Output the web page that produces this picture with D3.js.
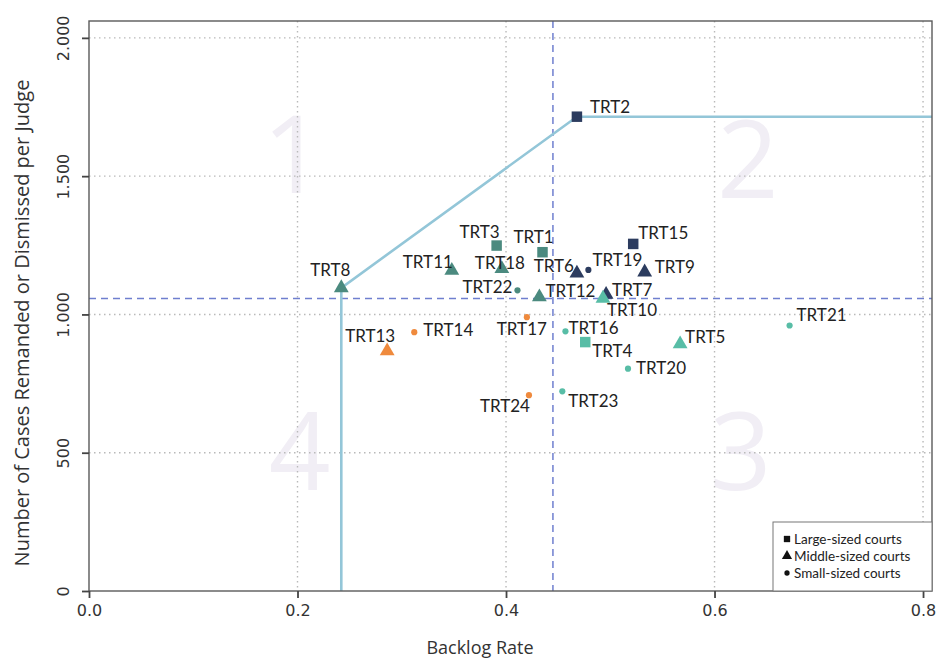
<!DOCTYPE html>
<html><head><meta charset="utf-8">
<script src="https://cdn.jsdelivr.net/npm/d3@7"></script>
<style>body{margin:0;background:#fff;}svg{display:block;font-family:Lato,"Open Sans",sans-serif;}</style>
</head><body><svg id="c" width="942" height="659"></svg>
<script>
// ---- data ----
const names   = ["TRT1","TRT2","TRT3","TRT4","TRT5","TRT6","TRT7","TRT8","TRT9","TRT10","TRT11","TRT12","TRT13","TRT14","TRT15","TRT16","TRT17","TRT18","TRT19","TRT20","TRT21","TRT22","TRT23","TRT24"];
const backlog = [0.435,0.468,0.391,0.476,0.567,0.468,0.496,0.242,0.533,0.493,0.348,0.432,0.286,0.312,0.522,0.457,0.420,0.396,0.479,0.517,0.672,0.411,0.454,0.422];
const cases   = [1225,1715,1249,900,893,1149,1072,1096,1153,1058,1159,1063,868,936,1255,939,990,1165,1161,804,960,1087,722,708];
const sizes   = ["L","L","L","L","M","M","M","M","M","M","M","M","M","S","L","S","S","M","S","S","S","S","S","S"];
const groups  = ["teal","navy","teal","light","light","navy","navy","teal","navy","light","teal","teal","orange","orange","navy","light","orange","teal","navy","light","light","teal","light","orange"];
const xTicks = [0.0,0.2,0.4,0.6,0.8];
const yTicks = [0,500,1000,1500,2000];
const meanBacklog = 0.445, meanCases = 1058;
const quadrants = ["1","2","3","4"];
const legendLabels = ["Large-sized courts","Middle-sized courts","Small-sized courts"];
const legendSizes = ["L","M","S"];

// ---- styles / layout ----
const colors = {navy:"#2c3c5f", teal:"#4b8a7f", light:"#58bda6", orange:"#ef8a3d"};
// label placement: [dx, dy(baseline), anchor]
const labelPos = {
 TRT1:[-29,-9,"start"],TRT2:[13,-4,"start"],TRT3:[3,-8,"end"],TRT4:[7,15,"start"],TRT5:[5,-1,"start"],
 TRT6:[-3,-1,"end"],TRT7:[6,1,"start"],TRT8:[-31,-12,"start"],TRT9:[10,1,"start"],TRT10:[4,18,"start"],
 TRT11:[-49,-2,"start"],TRT12:[6,0,"start"],TRT13:[-42,-9,"start"],TRT14:[9,4,"start"],TRT15:[5,-5,"start"],
 TRT16:[3,3,"start"],TRT17:[20,18,"end"],TRT18:[-27,0,"start"],TRT19:[4,-4,"start"],TRT20:[8,5,"start"],
 TRT21:[7,-4,"start"],TRT22:[-5,3,"end"],TRT23:[6,16,"start"],TRT24:[1,17,"end"]
};
const W=942,H=659, m={l:89,t:21,r:10,b:68};
const svg=d3.select("#c");
const x=d3.scaleLinear().domain([0,0.8086]).range([m.l,W-m.r]);
const y=d3.scaleLinear().domain([0,2061]).range([H-m.b,m.t]);
const loc=d3.formatLocale({decimal:",",thousands:".",grouping:[3],currency:["",""]});
const yFmt=loc.format(","), xFmt=d3.format(".1f");

// quadrant numbers
const qPos=[[0.196,1440],[0.632,1420],[0.625,365],[0.202,365]];
svg.append("g").selectAll("text").data(quadrants).join("text")
 .attr("x",(d,i)=>x(qPos[i][0])).attr("y",(d,i)=>y(qPos[i][1]))
 .attr("text-anchor","middle").attr("font-size",108).attr("fill","#f1eef5")
 .attr("font-family","'Open Sans',sans-serif").text(d=>d);

// grid
const grid=svg.append("g").attr("stroke","#b9b9b9").attr("stroke-width",1.4).attr("stroke-dasharray","1.5,3.5");
grid.selectAll(".gx").data(xTicks.filter(d=>d>0)).join("line")
 .attr("x1",d=>x(d)).attr("x2",d=>x(d)).attr("y1",m.t).attr("y2",H-m.b);
grid.selectAll(".gy").data(yTicks.filter(d=>d>0)).join("line")
 .attr("y1",d=>y(d)).attr("y2",d=>y(d)).attr("x1",m.l).attr("x2",W-m.r);

// mean lines
svg.append("line").attr("x1",x(meanBacklog)).attr("x2",x(meanBacklog)).attr("y1",m.t).attr("y2",H-m.b)
 .attr("stroke","#6f7fcf").attr("stroke-width",1.5).attr("stroke-dasharray","7,5");
svg.append("line").attr("x1",m.l).attr("x2",W-m.r).attr("y1",y(meanCases)).attr("y2",y(meanCases))
 .attr("stroke","#6f7fcf").attr("stroke-width",1.5).attr("stroke-dasharray","7,5");

// frontier
const i8=names.indexOf("TRT8"), i2=names.indexOf("TRT2");
const frontier=[[backlog[i8],0],[backlog[i8],cases[i8]],[backlog[i2],cases[i2]],[0.8086,cases[i2]]];
svg.append("path").attr("d",d3.line().x(d=>x(d[0])).y(d=>y(d[1]))(frontier))
 .attr("fill","none").attr("stroke","#93c6d8").attr("stroke-width",2.6);

// frame
svg.append("rect").attr("x",m.l).attr("y",m.t).attr("width",W-m.r-m.l).attr("height",H-m.b-m.t)
 .attr("fill","none").attr("stroke","#5a5a5a").attr("stroke-width",1.4);

// axes
const xa=svg.append("g").attr("transform",`translate(0,${H-m.b})`)
 .call(d3.axisBottom(x).tickValues(xTicks).tickFormat(xFmt).tickSize(7).tickSizeOuter(0));
xa.select(".domain").remove();
xa.selectAll("line").attr("stroke","#444").attr("stroke-width",1.8);
xa.selectAll("text").attr("fill","#333").attr("dy","0.95em").attr("font-family","'DejaVu Sans',sans-serif").attr("font-size",16);
const ya=svg.append("g").attr("transform",`translate(${m.l},0)`)
 .call(d3.axisLeft(y).tickValues(yTicks).tickFormat(yFmt).tickSize(7).tickSizeOuter(0));
ya.select(".domain").remove();
ya.selectAll("line").attr("stroke","#444").attr("stroke-width",1.8);
ya.selectAll("text").attr("x",0).attr("dy",0).attr("text-anchor","middle")
 .attr("transform","translate(-26,0) rotate(-90)").attr("dominant-baseline","central")
 .attr("font-family","'DejaVu Sans',sans-serif").attr("font-size",16).attr("fill","#333");

// axis titles
svg.append("text").attr("x",480).attr("y",654).attr("text-anchor","middle")
 .attr("font-family","'Open Sans',sans-serif").attr("font-size",18).attr("fill","#333").text("Backlog Rate");
svg.append("text").attr("transform",`translate(21,323) rotate(-90)`).attr("text-anchor","middle")
 .attr("dominant-baseline","central").attr("font-family","'Open Sans',sans-serif").attr("font-size",20).attr("fill","#333")
 .text("Number of Cases Remanded or Dismissed per Judge");

// markers
function sym(s){
 if(s==="L") return d3.symbol(d3.symbolSquare,110)();
 if(s==="M") return d3.symbol(d3.symbolTriangle,95)();
 return d3.symbol(d3.symbolCircle,30)();
}
const idx=d3.range(names.length);
svg.append("g").selectAll("path").data(idx).join("path")
 .attr("d",i=>sym(sizes[i])).attr("transform",i=>`translate(${x(backlog[i])},${y(cases[i])})`)
 .attr("fill",i=>colors[groups[i]]);

// labels
svg.append("g").selectAll("text").data(idx).join("text")
 .attr("x",i=>x(backlog[i])+labelPos[names[i]][0]).attr("y",i=>y(cases[i])+labelPos[names[i]][1])
 .attr("text-anchor",i=>labelPos[names[i]][2]).attr("font-size",17).attr("fill","#222")
 .text(i=>names[i]);

// legend
const lg=svg.append("g");
lg.append("rect").attr("x",773).attr("y",522).attr("width",W-m.r-773).attr("height",H-m.b-522)
 .attr("fill","#fff").attr("stroke","#777").attr("stroke-width",1);
const lsym={L:d3.symbol(d3.symbolSquare,40)(),M:d3.symbol(d3.symbolTriangle,45)(),S:d3.symbol(d3.symbolCircle,22)()};
lg.selectAll("path").data(legendSizes).join("path").attr("d",d=>lsym[d])
 .attr("transform",(d,i)=>`translate(787,${539+i*17})`).attr("fill","#111");
lg.selectAll("text").data(legendLabels).join("text").attr("x",794).attr("y",(d,i)=>539+i*17)
 .attr("dominant-baseline","central").attr("font-size",13.5).attr("fill","#222").text(d=>d);
</script></body></html>
